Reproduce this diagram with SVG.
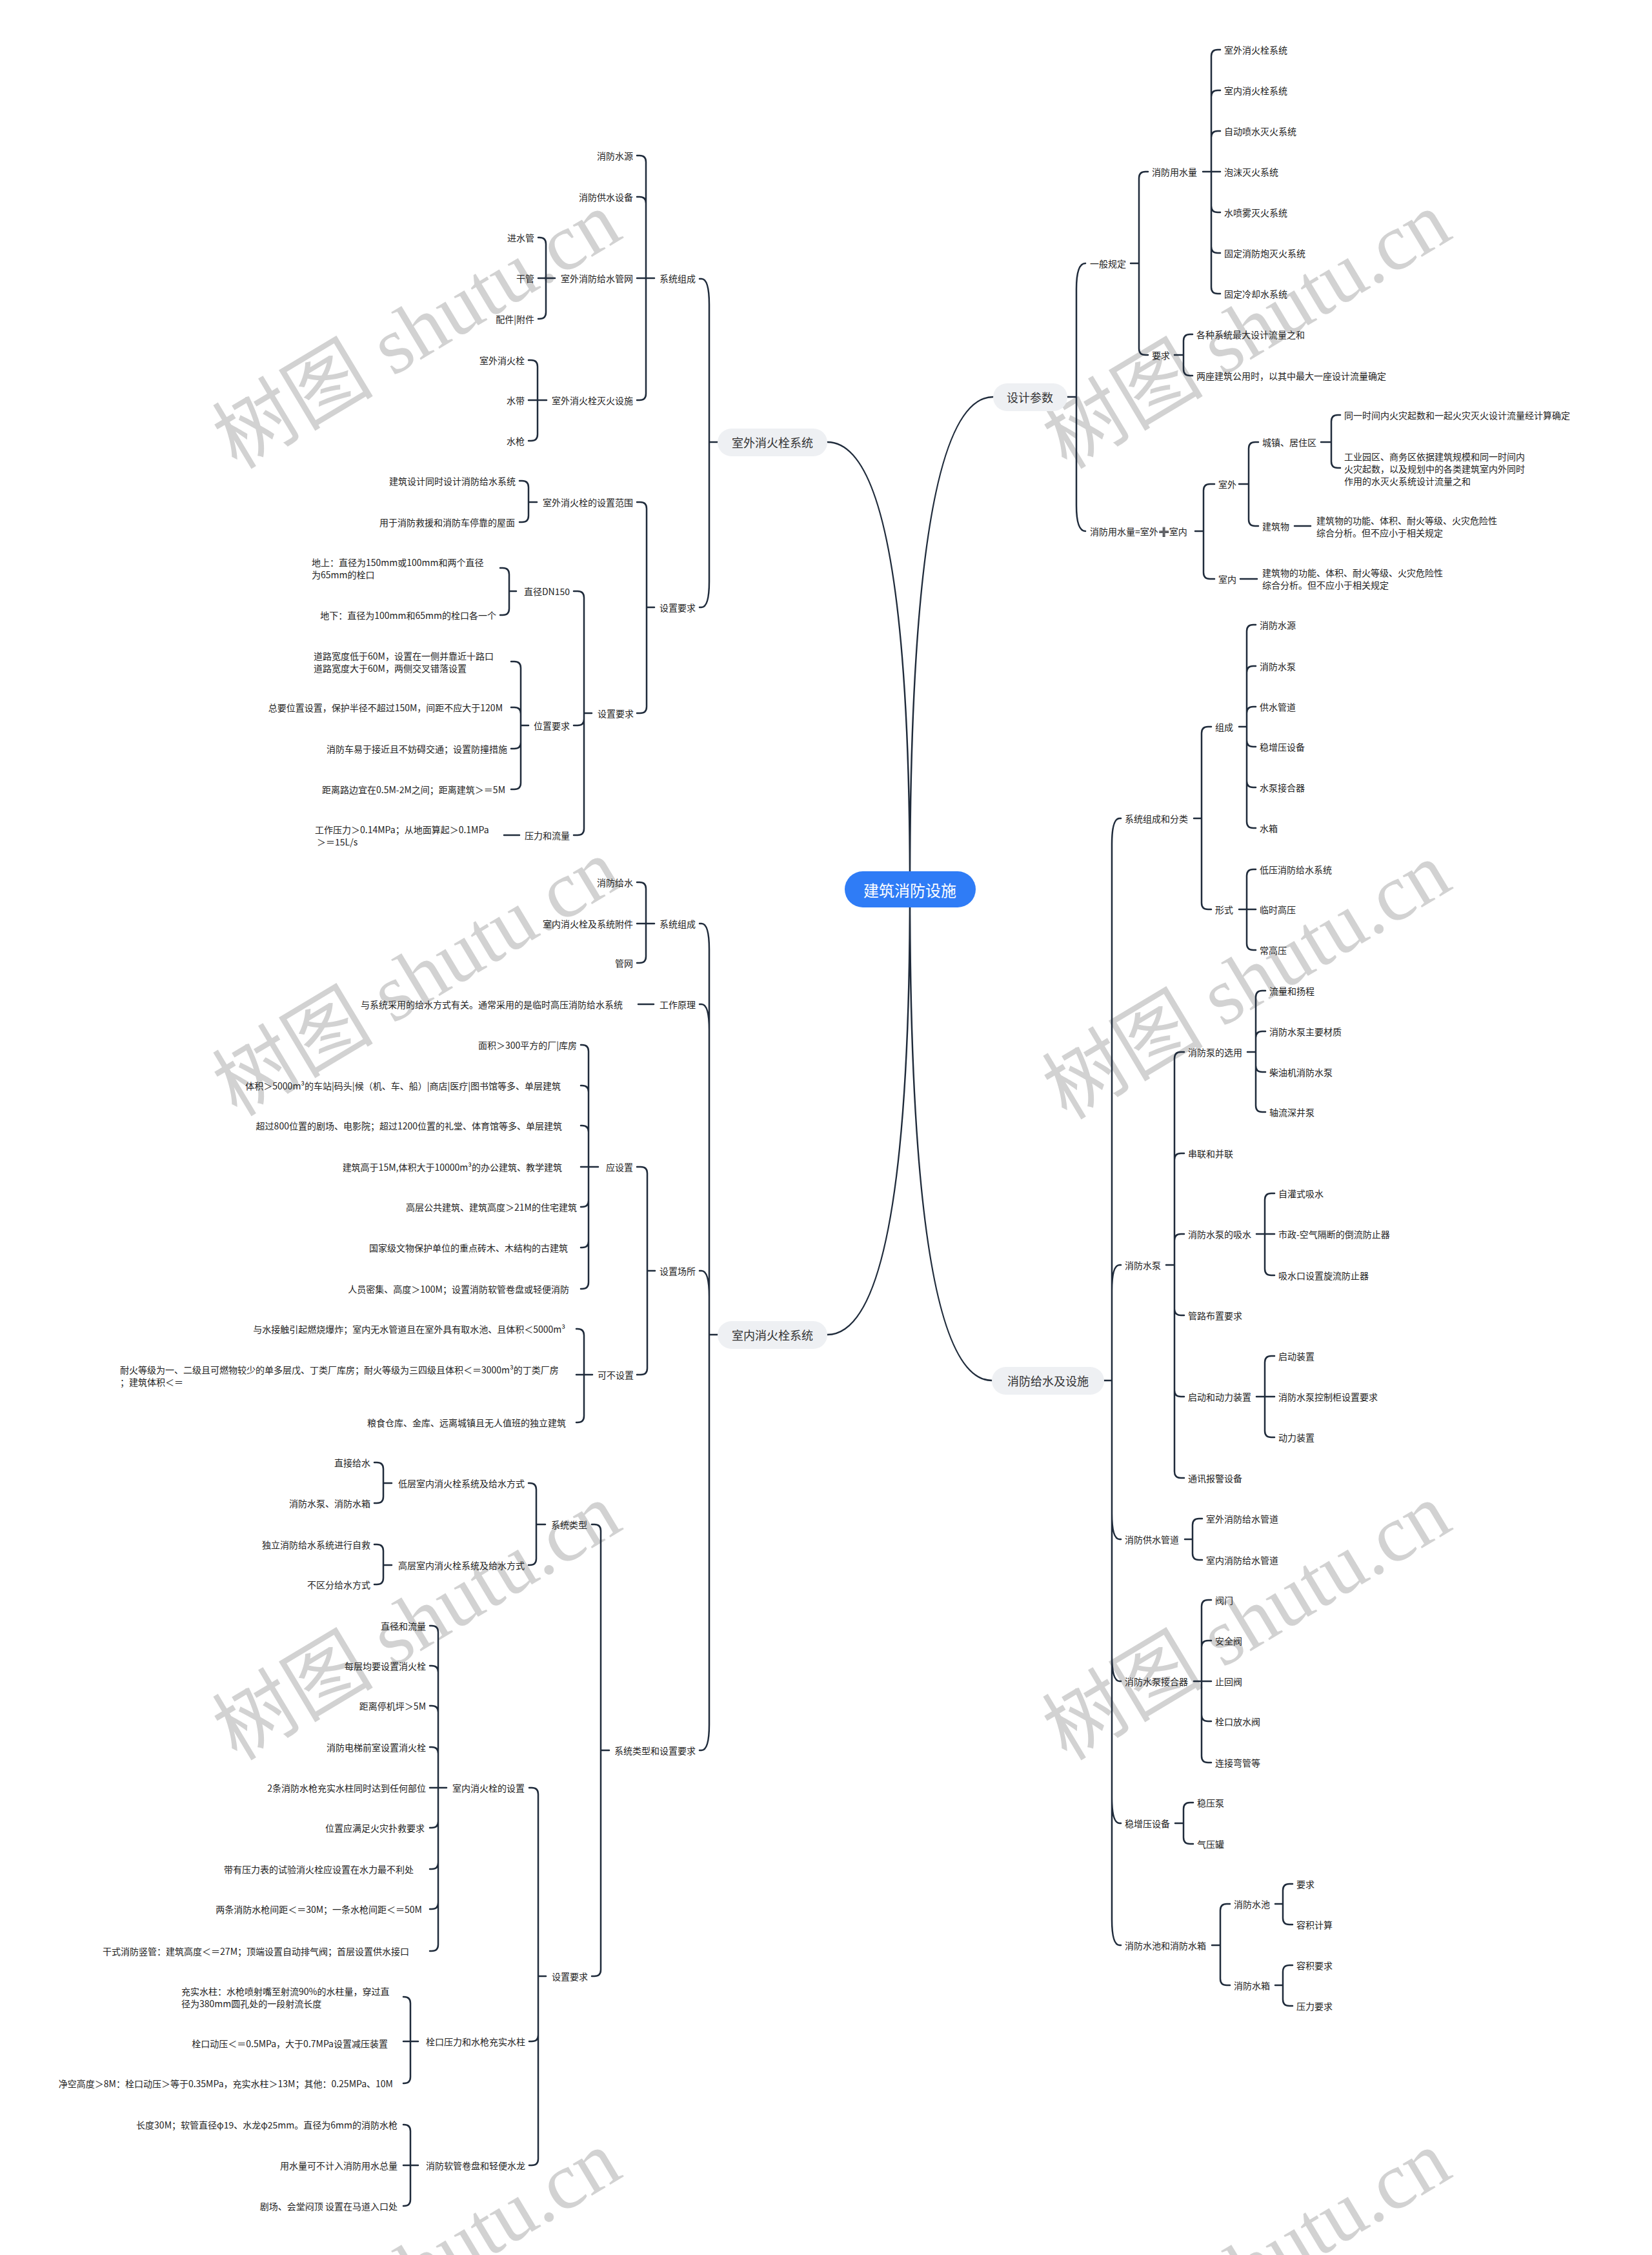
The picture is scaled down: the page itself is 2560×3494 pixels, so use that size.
<svg xmlns="http://www.w3.org/2000/svg" width="2560" height="3494" viewBox="0 0 2560 3494">
<style>
.ln{fill:none;stroke:#1f2b3b;stroke-width:2.5;stroke-linecap:round;stroke-linejoin:round}
.t{font-family:"Noto Sans CJK SC","Noto Sans",sans-serif;font-size:14px;fill:#222;dominant-baseline:central}
.e{text-anchor:end}
.m{font-family:"Noto Sans CJK SC","Noto Sans",sans-serif;font-size:18px;fill:#333;text-anchor:middle;dominant-baseline:central}
.pill{fill:#eef0f3}
.wm{font-family:"Liberation Serif","Noto Sans CJK SC",serif;font-size:125px;fill:#d2d2d2;text-anchor:middle;dominant-baseline:central}
</style>
<rect width="2560" height="3494" fill="#ffffff"/>
<g id="watermarks">
<text class="wm" transform="translate(646,512) rotate(-31)">树图 shutu.cn</text>
<text class="wm" transform="translate(1932,512) rotate(-31)">树图 shutu.cn</text>
<text class="wm" transform="translate(646,1515) rotate(-31)">树图 shutu.cn</text>
<text class="wm" transform="translate(1932,1520) rotate(-31)">树图 shutu.cn</text>
<text class="wm" transform="translate(646,2513) rotate(-31)">树图 shutu.cn</text>
<text class="wm" transform="translate(1932,2513) rotate(-31)">树图 shutu.cn</text>
<text class="wm" transform="translate(646,3516) rotate(-31)">树图 shutu.cn</text>
<text class="wm" transform="translate(1932,3516) rotate(-31)">树图 shutu.cn</text>
</g>
<g id="connectors">
<path class="ln" d="M1410,1377 Q1410,615 1539,615 M1410,1377 Q1410,2139 1537,2139 M1410,1377 Q1410,685 1282,685 M1410,1377 Q1410,2068 1282,2068"/>
<path class="ln" d="M1654,615 H1668 M1668,615 V448 Q1668,408 1682,408 M1668,615 V783 Q1668,823 1682,823"/>
<path class="ln" d="M1752,408 H1765 M1765,408 V276 Q1765,266 1775,266 H1779 M1765,408 V540 Q1765,550 1775,550 H1779"/>
<path class="ln" d="M1864,266 H1891 M1877,266 V87 Q1877,77 1887,77 H1891 M1877,266 V150 Q1877,140 1887,140 H1891 M1877,266 V213 Q1877,203 1887,203 H1891 M1877,266 V319 Q1877,329 1887,329 H1891 M1877,266 V382 Q1877,392 1887,392 H1891 M1877,266 V445 Q1877,455 1887,455 H1891"/>
<path class="ln" d="M1820,550 H1834 M1834,550 V528 Q1834,518 1844,518 H1848 M1834,550 V572 Q1834,582 1844,582 H1848"/>
<path class="ln" d="M1852,823 H1865 M1865,823 V760 Q1865,750 1875,750 H1882 M1865,823 V887 Q1865,897 1875,897 H1882"/>
<path class="ln" d="M1920,750 H1935 M1935,750 V695 Q1935,685 1945,685 H1950 M1935,750 V805 Q1935,815 1945,815 H1950"/>
<path class="ln" d="M2047,685 H2063 M2063,685 V653 Q2063,643 2073,643 H2077 M2063,685 V715 Q2063,725 2073,725 H2077"/>
<path class="ln" d="M2006,815 H2031 M1922,897 H1948"/>
<path class="ln" d="M1711,2139 H1723 M1723,2139 V1308 Q1723,1268 1735,1268 H1737 M1723,2139 V2000 Q1723,1960 1735,1960 H1737 M1723,2139 V2345 Q1723,2385 1735,2385 H1737 M1723,2139 V2565 Q1723,2605 1735,2605 H1737 M1723,2139 V2785 Q1723,2825 1735,2825 H1737 M1723,2139 V2974 Q1723,3014 1735,3014 H1737"/>
<path class="ln" d="M1850,1268 H1862 M1862,1268 V1136 Q1862,1126 1872,1126 H1877 M1862,1268 V1399 Q1862,1409 1872,1409 H1877"/>
<path class="ln" d="M1920,1126 H1932 M1932,1126 V978 Q1932,968 1942,968 H1946 M1932,1126 V1042 Q1932,1032 1942,1032 H1946 M1932,1126 V1105 Q1932,1095 1942,1095 H1946 M1932,1126 V1147 Q1932,1157 1942,1157 H1946 M1932,1126 V1210 Q1932,1220 1942,1220 H1946 M1932,1126 V1273 Q1932,1283 1942,1283 H1946"/>
<path class="ln" d="M1920,1409 H1946 M1932,1409 V1357 Q1932,1347 1942,1347 H1946 M1932,1409 V1462 Q1932,1472 1942,1472 H1946"/>
<path class="ln" d="M1807,1960 H1820 M1820,1960 V1640 Q1820,1630 1830,1630 H1835 M1820,1960 V1797 Q1820,1787 1830,1787 H1835 M1820,1960 V1922 Q1820,1912 1830,1912 H1835 M1820,1960 V2028 Q1820,2038 1830,2038 H1835 M1820,1960 V2154 Q1820,2164 1830,2164 H1835 M1820,1960 V2280 Q1820,2290 1830,2290 H1835"/>
<path class="ln" d="M1933,1630 H1946 M1946,1630 V1545 Q1946,1535 1956,1535 H1961 M1946,1630 V1608 Q1946,1598 1956,1598 H1961 M1946,1630 V1651 Q1946,1661 1956,1661 H1961 M1946,1630 V1713 Q1946,1723 1956,1723 H1961"/>
<path class="ln" d="M1947,1912 H1975 M1960,1912 V1859 Q1960,1849 1970,1849 H1975 M1960,1912 V1966 Q1960,1976 1970,1976 H1975"/>
<path class="ln" d="M1947,2164 H1975 M1960,2164 V2111 Q1960,2101 1970,2101 H1975 M1960,2164 V2217 Q1960,2227 1970,2227 H1975"/>
<path class="ln" d="M1836,2385 H1848 M1848,2385 V2363 Q1848,2353 1858,2353 H1863 M1848,2385 V2407 Q1848,2417 1858,2417 H1863"/>
<path class="ln" d="M1850,2605 H1877 M1862,2605 V2489 Q1862,2479 1872,2479 H1877 M1862,2605 V2552 Q1862,2542 1872,2542 H1877 M1862,2605 V2657 Q1862,2667 1872,2667 H1877 M1862,2605 V2721 Q1862,2731 1872,2731 H1877"/>
<path class="ln" d="M1821,2825 H1834 M1834,2825 V2803 Q1834,2793 1844,2793 H1849 M1834,2825 V2847 Q1834,2857 1844,2857 H1849"/>
<path class="ln" d="M1878,3014 H1891 M1891,3014 V2960 Q1891,2950 1901,2950 H1906 M1891,3014 V3066 Q1891,3076 1901,3076 H1906"/>
<path class="ln" d="M1976,2950 H1988 M1988,2950 V2929 Q1988,2919 1998,2919 H2003 M1988,2950 V2972 Q1988,2982 1998,2982 H2003"/>
<path class="ln" d="M1976,3076 H1988 M1988,3076 V3055 Q1988,3045 1998,3045 H2003 M1988,3076 V3098 Q1988,3108 1998,3108 H2003"/>
<path class="ln" d="M1112,685 H1099 M1099,685 V472 Q1099,432 1087,432 H1084 M1099,685 V901 Q1099,941 1087,941 H1084"/>
<path class="ln" d="M1014,431 H987 M1001,431 V251 Q1001,241 991,241 H987 M1001,431 V315 Q1001,305 991,305 H987 M1001,431 V610 Q1001,620 991,620 H987"/>
<path class="ln" d="M860,431 H834 M846,431 V378 Q846,368 836,368 H834 M846,431 V484 Q846,494 836,494 H834"/>
<path class="ln" d="M847,620 H819 M833,620 V568 Q833,558 823,558 H819 M833,620 V673 Q833,683 823,683 H819"/>
<path class="ln" d="M1014,941 H1002 M1002,941 V788 Q1002,778 992,778 H987 M1002,941 V1095 Q1002,1105 992,1105 H987"/>
<path class="ln" d="M832,778 H819 M819,778 V755 Q819,745 809,745 H805 M819,778 V799 Q819,809 809,809 H805"/>
<path class="ln" d="M917,1105 H905 M905,1105 V926 Q905,916 895,916 H889 M905,1105 V1114 Q905,1124 895,1124 H889 M905,1105 V1284 Q905,1294 895,1294 H889"/>
<path class="ln" d="M800,916 H789 M789,916 V890 Q789,880 779,880 H775 M789,916 V943 Q789,953 779,953 H775"/>
<path class="ln" d="M819,1124 H807 M807,1124 V1035 Q807,1025 797,1025 H792 M807,1124 V1106 Q807,1096 797,1096 H792 M807,1124 V1150 Q807,1160 797,1160 H792 M807,1124 V1213 Q807,1223 797,1223 H792"/>
<path class="ln" d="M805,1294 H781"/>
<path class="ln" d="M1112,2068 H1099 M1099,2068 V1471 Q1099,1431 1087,1431 H1084 M1099,2068 V1596 Q1099,1556 1087,1556 H1084 M1099,2068 V2009 Q1099,1969 1087,1969 H1084 M1099,2068 V2672 Q1099,2712 1087,2712 H1084"/>
<path class="ln" d="M1014,1431 H987 M1001,1431 V1377 Q1001,1367 991,1367 H987 M1001,1431 V1482 Q1001,1492 991,1492 H987"/>
<path class="ln" d="M1013,1556 H989"/>
<path class="ln" d="M1015,1969 H1003 M1003,1969 V1818 Q1003,1808 993,1808 H987 M1003,1969 V2120 Q1003,2130 993,2130 H987"/>
<path class="ln" d="M927,1808 H900 M912,1808 V1629 Q912,1619 902,1619 H900 M912,1808 V1692 Q912,1682 902,1682 H900 M912,1808 V1754 Q912,1744 902,1744 H900 M912,1808 V1860 Q912,1870 902,1870 H900 M912,1808 V1923 Q912,1933 902,1933 H900 M912,1808 V1987 Q912,1997 902,1997 H900"/>
<path class="ln" d="M918,2130 H893 M905,2130 V2069 Q905,2059 895,2059 H893 M905,2130 V2194 Q905,2204 895,2204 H893"/>
<path class="ln" d="M944,2712 H931 M931,2712 V2372 Q931,2362 921,2362 H917 M931,2712 V3052 Q931,3062 921,3062 H917"/>
<path class="ln" d="M845,2362 H831 M831,2362 V2308 Q831,2298 821,2298 H819 M831,2362 V2415 Q831,2425 821,2425 H819"/>
<path class="ln" d="M607,2298 H594 M594,2298 V2276 Q594,2266 584,2266 H580 M594,2298 V2319 Q594,2329 584,2329 H580"/>
<path class="ln" d="M607,2425 H594 M594,2425 V2403 Q594,2393 584,2393 H580 M594,2425 V2445 Q594,2455 584,2455 H580"/>
<path class="ln" d="M846,3062 H834 M834,3062 V2780 Q834,2770 824,2770 H820 M834,3062 V3153 Q834,3163 824,3163 H820 M834,3062 V3345 Q834,3355 824,3355 H820"/>
<path class="ln" d="M692,2770 H666 M679,2770 V2529 Q679,2519 669,2519 H666 M679,2770 V2591 Q679,2581 669,2581 H666 M679,2770 V2653 Q679,2643 669,2643 H666 M679,2770 V2717 Q679,2707 669,2707 H666 M679,2770 V2822 Q679,2832 669,2832 H666 M679,2770 V2886 Q679,2896 669,2896 H666 M679,2770 V2948 Q679,2958 669,2958 H666 M679,2770 V3013 Q679,3023 669,3023 H666"/>
<path class="ln" d="M648,3163 H625 M636,3163 V3104 Q636,3094 626,3094 H625 M636,3163 V3218 Q636,3228 626,3228 H625"/>
<path class="ln" d="M648,3355 H625 M636,3355 V3302 Q636,3292 626,3292 H625 M636,3355 V3408 Q636,3418 626,3418 H625"/>
</g>
<g id="root"><rect x="1309" y="1350" width="203" height="56" rx="28" fill="#2f7cf6"/><text x="1410" y="1378" font-family="Noto Sans CJK SC, sans-serif" font-size="24" fill="#ffffff" text-anchor="middle" dominant-baseline="central">建筑消防设施</text></g>
<g id="b-sjcs"><rect class="pill" x="1539" y="594" width="115" height="43" rx="21.5"/><text class="m" x="1596" y="615">设计参数</text></g>
<g id="b-xfgs"><rect class="pill" x="1537" y="2118" width="174" height="43" rx="21.5"/><text class="m" x="1624" y="2139">消防给水及设施</text></g>
<g id="b-swxhs"><rect class="pill" x="1112" y="664" width="170" height="43" rx="21.5"/><text class="m" x="1197" y="685">室外消火栓系统</text></g>
<g id="b-snxhs"><rect class="pill" x="1112" y="2047" width="170" height="43" rx="21.5"/><text class="m" x="1197" y="2068">室内消火栓系统</text></g>
<g id="r-ybgd"><text class="t" x="1689" y="408">一般规定</text></g>
<g id="r-xfysl"><text class="t" x="1785" y="266">消防用水量</text></g>
<g id="r-a1"><text class="t" x="1897" y="77">室外消火栓系统</text></g>
<g id="r-a2"><text class="t" x="1897" y="140">室内消火栓系统</text></g>
<g id="r-a3"><text class="t" x="1897" y="203">自动喷水灭火系统</text></g>
<g id="r-a4"><text class="t" x="1897" y="266">泡沫灭火系统</text></g>
<g id="r-a5"><text class="t" x="1897" y="329">水喷雾灭火系统</text></g>
<g id="r-a6"><text class="t" x="1897" y="392">固定消防炮灭火系统</text></g>
<g id="r-a7"><text class="t" x="1897" y="455">固定冷却水系统</text></g>
<g id="r-yq"><text class="t" x="1785" y="550">要求</text></g>
<g id="r-yq1"><text class="t" x="1854" y="518">各种系统最大设计流量之和</text></g>
<g id="r-yq2"><text class="t" x="1854" y="582">两座建筑公用时，以其中最大一座设计流量确定</text></g>
<g id="r-xfsl"><text class="t" x="1689" y="823">消防用水量=室外➕室内</text></g>
<g id="r-sw"><text class="t" x="1888" y="750">室外</text></g>
<g id="r-cz"><text class="t" x="1956" y="685">城镇、居住区</text></g>
<g id="r-cz1"><text class="t" x="2083" y="643">同一时间内火灾起数和一起火灾灭火设计流量经计算确定</text></g>
<g id="r-cz2"><text class="t"><tspan x="2083" y="707">工业园区、商务区依据建筑规模和同一时间内</tspan><tspan x="2083" y="726">火灾起数，以及规划中的各类建筑室内外同时</tspan><tspan x="2083" y="745">作用的水灭火系统设计流量之和</tspan></text></g>
<g id="r-jzw"><text class="t" x="1956" y="815">建筑物</text></g>
<g id="r-jzw1"><text class="t"><tspan x="2040" y="806">建筑物的功能、体积、耐火等级、火灾危险性</tspan><tspan x="2040" y="825">综合分析。但不应小于相关规定</tspan></text></g>
<g id="r-sn"><text class="t" x="1888" y="897">室内</text></g>
<g id="r-sn1"><text class="t"><tspan x="1956" y="887">建筑物的功能、体积、耐火等级、火灾危险性</tspan><tspan x="1956" y="906">综合分析。但不应小于相关规定</tspan></text></g>
<g id="r-xtzc"><text class="t" x="1743" y="1268">系统组成和分类</text></g>
<g id="r-zc"><text class="t" x="1883" y="1126">组成</text></g>
<g id="r-zc1"><text class="t" x="1952" y="968">消防水源</text></g>
<g id="r-zc2"><text class="t" x="1952" y="1032">消防水泵</text></g>
<g id="r-zc3"><text class="t" x="1952" y="1095">供水管道</text></g>
<g id="r-zc4"><text class="t" x="1952" y="1157">稳增压设备</text></g>
<g id="r-zc5"><text class="t" x="1952" y="1220">水泵接合器</text></g>
<g id="r-zc6"><text class="t" x="1952" y="1283">水箱</text></g>
<g id="r-xs"><text class="t" x="1883" y="1409">形式</text></g>
<g id="r-xs1"><text class="t" x="1952" y="1347">低压消防给水系统</text></g>
<g id="r-xs2"><text class="t" x="1952" y="1409">临时高压</text></g>
<g id="r-xs3"><text class="t" x="1952" y="1472">常高压</text></g>
<g id="r-xfsb"><text class="t" x="1743" y="1960">消防水泵</text></g>
<g id="r-xy"><text class="t" x="1841" y="1630">消防泵的选用</text></g>
<g id="r-xy1"><text class="t" x="1967" y="1535">流量和扬程</text></g>
<g id="r-xy2"><text class="t" x="1967" y="1598">消防水泵主要材质</text></g>
<g id="r-xy3"><text class="t" x="1967" y="1661">柴油机消防水泵</text></g>
<g id="r-xy4"><text class="t" x="1967" y="1723">轴流深井泵</text></g>
<g id="r-cl"><text class="t" x="1841" y="1787">串联和并联</text></g>
<g id="r-xs0"><text class="t" x="1841" y="1912">消防水泵的吸水</text></g>
<g id="r-xs01"><text class="t" x="1981" y="1849">自灌式吸水</text></g>
<g id="r-xs02"><text class="t" x="1981" y="1912">市政-空气隔断的倒流防止器</text></g>
<g id="r-xs03"><text class="t" x="1981" y="1976">吸水口设置旋流防止器</text></g>
<g id="r-gl"><text class="t" x="1841" y="2038">管路布置要求</text></g>
<g id="r-qd"><text class="t" x="1841" y="2164">启动和动力装置</text></g>
<g id="r-qd1"><text class="t" x="1981" y="2101">启动装置</text></g>
<g id="r-qd2"><text class="t" x="1981" y="2164">消防水泵控制柜设置要求</text></g>
<g id="r-qd3"><text class="t" x="1981" y="2227">动力装置</text></g>
<g id="r-tx"><text class="t" x="1841" y="2290">通讯报警设备</text></g>
<g id="r-gs"><text class="t" x="1743" y="2385">消防供水管道</text></g>
<g id="r-gs1"><text class="t" x="1869" y="2353">室外消防给水管道</text></g>
<g id="r-gs2"><text class="t" x="1869" y="2417">室内消防给水管道</text></g>
<g id="r-jhq"><text class="t" x="1743" y="2605">消防水泵接合器</text></g>
<g id="r-jhq1"><text class="t" x="1883" y="2479">阀门</text></g>
<g id="r-jhq2"><text class="t" x="1883" y="2542">安全阀</text></g>
<g id="r-jhq3"><text class="t" x="1883" y="2605">止回阀</text></g>
<g id="r-jhq4"><text class="t" x="1883" y="2667">栓口放水阀</text></g>
<g id="r-jhq5"><text class="t" x="1883" y="2731">连接弯管等</text></g>
<g id="r-wzy"><text class="t" x="1743" y="2825">稳增压设备</text></g>
<g id="r-wzy1"><text class="t" x="1855" y="2793">稳压泵</text></g>
<g id="r-wzy2"><text class="t" x="1855" y="2857">气压罐</text></g>
<g id="r-sc"><text class="t" x="1743" y="3014">消防水池和消防水箱</text></g>
<g id="r-sc1"><text class="t" x="1912" y="2950">消防水池</text></g>
<g id="r-sc11"><text class="t" x="2009" y="2919">要求</text></g>
<g id="r-sc12"><text class="t" x="2009" y="2982">容积计算</text></g>
<g id="r-sc2"><text class="t" x="1912" y="3076">消防水箱</text></g>
<g id="r-sc21"><text class="t" x="2009" y="3045">容积要求</text></g>
<g id="r-sc22"><text class="t" x="2009" y="3108">压力要求</text></g>
<g id="l-xtzc"><text class="t e" x="1078" y="431">系统组成</text></g>
<g id="l-zc1"><text class="t e" x="981" y="241">消防水源</text></g>
<g id="l-zc2"><text class="t e" x="981" y="305">消防供水设备</text></g>
<g id="l-gw"><text class="t e" x="981" y="431">室外消防给水管网</text></g>
<g id="l-gw1"><text class="t e" x="828" y="368">进水管</text></g>
<g id="l-gw2"><text class="t e" x="828" y="431">干管</text></g>
<g id="l-gw3"><text class="t e" x="828" y="494">配件|附件</text></g>
<g id="l-mh"><text class="t e" x="981" y="620">室外消火栓灭火设施</text></g>
<g id="l-mh1"><text class="t e" x="813" y="558">室外消火栓</text></g>
<g id="l-mh2"><text class="t e" x="813" y="620">水带</text></g>
<g id="l-mh3"><text class="t e" x="813" y="683">水枪</text></g>
<g id="l-szyq"><text class="t e" x="1078" y="941">设置要求</text></g>
<g id="l-fw"><text class="t e" x="981" y="778">室外消火栓的设置范围</text></g>
<g id="l-fw1"><text class="t e" x="799" y="745">建筑设计同时设计消防给水系统</text></g>
<g id="l-fw2"><text class="t e" x="798" y="809">用于消防救援和消防车停靠的屋面</text></g>
<g id="l-szyq2"><text class="t e" x="982" y="1105">设置要求</text></g>
<g id="l-dn"><text class="t e" x="883" y="916">直径DN150</text></g>
<g id="l-dn1"><text class="t"><tspan x="483" y="871">地上：直径为150mm或100mm和两个直径</tspan><tspan x="483" y="890">为65mm的栓口</tspan></text></g>
<g id="l-dn2"><text class="t e" x="769" y="953">地下：直径为100mm和65mm的栓口各一个</text></g>
<g id="l-wz"><text class="t e" x="883" y="1124">位置要求</text></g>
<g id="l-wz1"><text class="t"><tspan x="486" y="1016">道路宽度低于60M，设置在一侧并靠近十路口</tspan><tspan x="486" y="1035">道路宽度大于60M，两侧交叉错落设置</tspan></text></g>
<g id="l-wz2"><text class="t e" x="779" y="1096">总要位置设置，保护半径不超过150M，间距不应大于120M</text></g>
<g id="l-wz3"><text class="t e" x="786" y="1160">消防车易于接近且不妨碍交通；设置防撞措施</text></g>
<g id="l-wz4"><text class="t e" x="783" y="1223">距离路边宜在0.5M-2M之间；距离建筑＞＝5M</text></g>
<g id="l-yl"><text class="t e" x="883" y="1294">压力和流量</text></g>
<g id="l-yl1"><text class="t"><tspan x="488" y="1285">工作压力＞0.14MPa；从地面算起＞0.1MPa</tspan><tspan x="491" y="1304">＞＝15L/s</tspan></text></g>
<g id="l-xtzc2"><text class="t e" x="1078" y="1431">系统组成</text></g>
<g id="l-zz1"><text class="t e" x="981" y="1367">消防给水</text></g>
<g id="l-zz2"><text class="t e" x="981" y="1431">室内消火栓及系统附件</text></g>
<g id="l-zz3"><text class="t e" x="981" y="1492">管网</text></g>
<g id="l-gzyl"><text class="t e" x="1078" y="1556">工作原理</text></g>
<g id="l-gzyl1"><text class="t e" x="965" y="1556">与系统采用的给水方式有关。通常采用的是临时高压消防给水系统</text></g>
<g id="l-szcs"><text class="t e" x="1078" y="1969">设置场所</text></g>
<g id="l-ysz"><text class="t e" x="981" y="1808">应设置</text></g>
<g id="l-ysz1"><text class="t e" x="894" y="1619">面积＞300平方的厂|库房</text></g>
<g id="l-ysz2"><text class="t e" x="869" y="1682">体积＞5000m³的车站|码头|候（机、车、船）|商店|医疗|图书馆等多、单层建筑</text></g>
<g id="l-ysz3"><text class="t e" x="871" y="1744">超过800位置的剧场、电影院；超过1200位置的礼堂、体育馆等多、单层建筑</text></g>
<g id="l-ysz4"><text class="t e" x="871" y="1808">建筑高于15M,体积大于10000m³的办公建筑、教学建筑</text></g>
<g id="l-ysz5"><text class="t e" x="894" y="1870">高层公共建筑、建筑高度＞21M的住宅建筑</text></g>
<g id="l-ysz6"><text class="t e" x="880" y="1933">国家级文物保护单位的重点砖木、木结构的古建筑</text></g>
<g id="l-ysz7"><text class="t e" x="882" y="1997">人员密集、高度＞100M；设置消防软管卷盘或轻便消防</text></g>
<g id="l-kbsz"><text class="t e" x="982" y="2130">可不设置</text></g>
<g id="l-kb1"><text class="t e" x="876" y="2059">与水接触引起燃烧爆炸；室内无水管道且在室外具有取水池、且体积＜5000m³</text></g>
<g id="l-kb2"><text class="t"><tspan x="186" y="2122">耐火等级为一、二级且可燃物较少的单多层戊、丁类厂库房；耐火等级为三四级且体积＜＝3000m³的丁类厂房</tspan><tspan x="186" y="2141">；建筑体积＜＝</tspan></text></g>
<g id="l-kb3"><text class="t e" x="877" y="2204">粮食仓库、金库、远离城镇且无人值班的独立建筑</text></g>
<g id="l-lx"><text class="t e" x="1078" y="2712">系统类型和设置要求</text></g>
<g id="l-xtlx"><text class="t e" x="910" y="2362">系统类型</text></g>
<g id="l-dc"><text class="t e" x="813" y="2298">低层室内消火栓系统及给水方式</text></g>
<g id="l-dc1"><text class="t e" x="574" y="2266">直接给水</text></g>
<g id="l-dc2"><text class="t e" x="574" y="2329">消防水泵、消防水箱</text></g>
<g id="l-gc"><text class="t e" x="813" y="2425">高层室内消火栓系统及给水方式</text></g>
<g id="l-gc1"><text class="t e" x="574" y="2393">独立消防给水系统进行自救</text></g>
<g id="l-gc2"><text class="t e" x="574" y="2455">不区分给水方式</text></g>
<g id="l-szyq3"><text class="t e" x="911" y="3062">设置要求</text></g>
<g id="l-snsz"><text class="t e" x="813" y="2770">室内消火栓的设置</text></g>
<g id="l-snsz1"><text class="t e" x="660" y="2519">直径和流量</text></g>
<g id="l-snsz2"><text class="t e" x="660" y="2581">每层均要设置消火栓</text></g>
<g id="l-snsz3"><text class="t e" x="660" y="2643">距离停机坪＞5M</text></g>
<g id="l-snsz4"><text class="t e" x="660" y="2707">消防电梯前室设置消火栓</text></g>
<g id="l-snsz5"><text class="t e" x="660" y="2770">2条消防水枪充实水柱同时达到任何部位</text></g>
<g id="l-snsz6"><text class="t e" x="658" y="2832">位置应满足火灾扑救要求</text></g>
<g id="l-snsz7"><text class="t e" x="641" y="2896">带有压力表的试验消火栓应设置在水力最不利处</text></g>
<g id="l-snsz8"><text class="t e" x="654" y="2958">两条消防水枪间距＜＝30M；一条水枪间距＜＝50M</text></g>
<g id="l-snsz9"><text class="t e" x="634" y="3023">干式消防竖管：建筑高度＜＝27M；顶端设置自动排气阀；首层设置供水接口</text></g>
<g id="l-sk"><text class="t e" x="814" y="3163">栓口压力和水枪充实水柱</text></g>
<g id="l-sk1"><text class="t"><tspan x="281" y="3085">充实水柱：水枪喷射嘴至射流90%的水柱量，穿过直</tspan><tspan x="281" y="3104">径为380mm圆孔处的一段射流长度</tspan></text></g>
<g id="l-sk2"><text class="t e" x="601" y="3166">栓口动压＜＝0.5MPa，大于0.7MPa设置减压装置</text></g>
<g id="l-sk3"><text class="t e" x="609" y="3228">净空高度＞8M：栓口动压＞等于0.35MPa，充实水柱＞13M；其他：0.25MPa、10M</text></g>
<g id="l-rg"><text class="t e" x="814" y="3355">消防软管卷盘和轻便水龙</text></g>
<g id="l-rg1"><text class="t e" x="616" y="3292">长度30M；软管直径φ19、水龙φ25mm。直径为6mm的消防水枪</text></g>
<g id="l-rg2"><text class="t e" x="616" y="3355">用水量可不计入消防用水总量</text></g>
<g id="l-rg3"><text class="t e" x="616" y="3418">剧场、会堂闷顶 设置在马道入口处</text></g>
</svg>
